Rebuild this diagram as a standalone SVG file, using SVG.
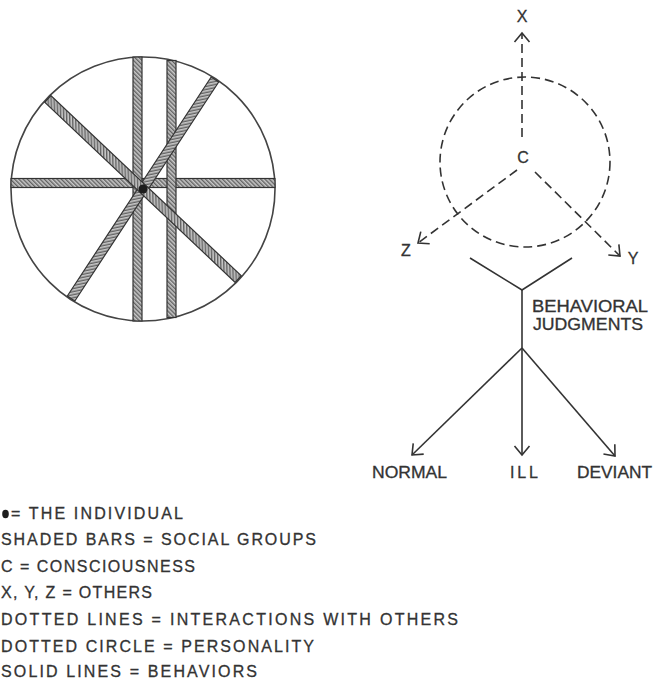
<svg xmlns="http://www.w3.org/2000/svg" width="656" height="682" viewBox="0 0 656 682">
<defs>
<pattern id="hatch" patternUnits="userSpaceOnUse" width="3" height="3" patternTransform="rotate(-45)">
<rect width="3" height="3" fill="#c8c8c8"/>
<rect width="1.4" height="3" fill="#626262"/>
</pattern>
<marker id="arr" viewBox="-12 -9 14 18" markerWidth="14" markerHeight="18" refX="0" refY="0" orient="auto" markerUnits="userSpaceOnUse">
<path d="M-9,-7.5 L0,0 L-9,7.5" fill="none" stroke="#333" stroke-width="1.6"/>
</marker>
</defs>
<style>
.bar{fill:url(#hatch);stroke:#333;stroke-width:1.2}
.dash{fill:none;stroke:#333;stroke-width:1.6;stroke-dasharray:9 5}
.solid{fill:none;stroke:#333;stroke-width:1.6}
.t{font-family:"Liberation Sans",Arial,sans-serif;fill:#333;stroke:#333;stroke-width:0.3;font-size:16px}
.s{font-family:"Liberation Sans",Arial,sans-serif;fill:#333;stroke:#333;stroke-width:0.3;font-size:16px;text-anchor:middle}
</style>
<rect width="656" height="682" fill="#ffffff"/>

<g id="society">
<circle cx="143" cy="189" r="132" fill="none" stroke="#444" stroke-width="1.6"/>
<rect class="bar" x="11" y="178.5" width="264" height="9"/>
<rect class="bar" x="133" y="57" width="9" height="264"/>
<rect class="bar" x="167" y="60.5" width="9" height="257"/>
<rect class="bar" x="-131" y="-4.5" width="262" height="9" transform="translate(143,189) rotate(-56.7)"/>
<rect class="bar" x="-131" y="-4.5" width="262" height="9" transform="translate(143,189) rotate(43.4)"/>
<circle cx="143" cy="189" r="4.5" fill="#1e1e1e"/>
</g>

<g id="personality">
<circle class="dash" cx="525" cy="162" r="85" stroke-dasharray="10 6"/>
<text class="s" x="523" y="163">C</text>
</g>
<g id="other-x"><text class="s" x="522" y="22">X</text></g>
<g id="other-z"><text class="s" x="406" y="256">Z</text></g>
<g id="other-y"><text class="s" x="633" y="264">Y</text></g>
<g id="behavioral-judgments">
<text class="t" x="532" y="312" textLength="116" lengthAdjust="spacingAndGlyphs">BEHAVIORAL</text>
<text class="t" x="533" y="330" textLength="110" lengthAdjust="spacingAndGlyphs">JUDGMENTS</text>
</g>
<g id="normal"><text class="t" x="372" y="478" textLength="75" lengthAdjust="spacingAndGlyphs">NORMAL</text></g>
<g id="ill"><text class="t" x="510" y="478" textLength="28" lengthAdjust="spacing">ILL</text></g>
<g id="deviant"><text class="t" x="577" y="478" textLength="75" lengthAdjust="spacingAndGlyphs">DEVIANT</text></g>

<g id="connectors">
<line class="dash" x1="522" y1="137" x2="522" y2="33" marker-end="url(#arr)"/>
<line class="dash" x1="517" y1="170" x2="418" y2="243" marker-end="url(#arr)"/>
<line class="dash" x1="535" y1="172" x2="620" y2="256" marker-end="url(#arr)"/>
<polyline class="solid" points="470,258 522,290 572,258"/>
<line class="solid" x1="522" y1="290" x2="522" y2="348"/>
<line class="solid" x1="522" y1="348" x2="412" y2="455" marker-end="url(#arr)"/>
<line class="solid" x1="522" y1="348" x2="522" y2="455" marker-end="url(#arr)"/>
<line class="solid" x1="522" y1="348" x2="615" y2="456" marker-end="url(#arr)"/>
</g>

<g id="legend">
<ellipse cx="5.5" cy="514" rx="3.3" ry="4.2" fill="#1e1e1e"/>
<text class="t" x="11" y="519" textLength="172" lengthAdjust="spacing">= THE  INDIVIDUAL</text>
<text class="t" x="1" y="545" textLength="315" lengthAdjust="spacing">SHADED  BARS = SOCIAL  GROUPS</text>
<text class="t" x="1" y="572" textLength="194" lengthAdjust="spacing">C = CONSCIOUSNESS</text>
<text class="t" x="1" y="598" textLength="151" lengthAdjust="spacing">X, Y, Z = OTHERS</text>
<text class="t" x="1" y="625" textLength="457" lengthAdjust="spacing">DOTTED  LINES = INTERACTIONS   WITH  OTHERS</text>
<text class="t" x="1" y="652" textLength="313" lengthAdjust="spacing">DOTTED  CIRCLE = PERSONALITY</text>
<text class="t" x="1" y="677" textLength="256" lengthAdjust="spacing">SOLID  LINES = BEHAVIORS</text>
</g>
</svg>
